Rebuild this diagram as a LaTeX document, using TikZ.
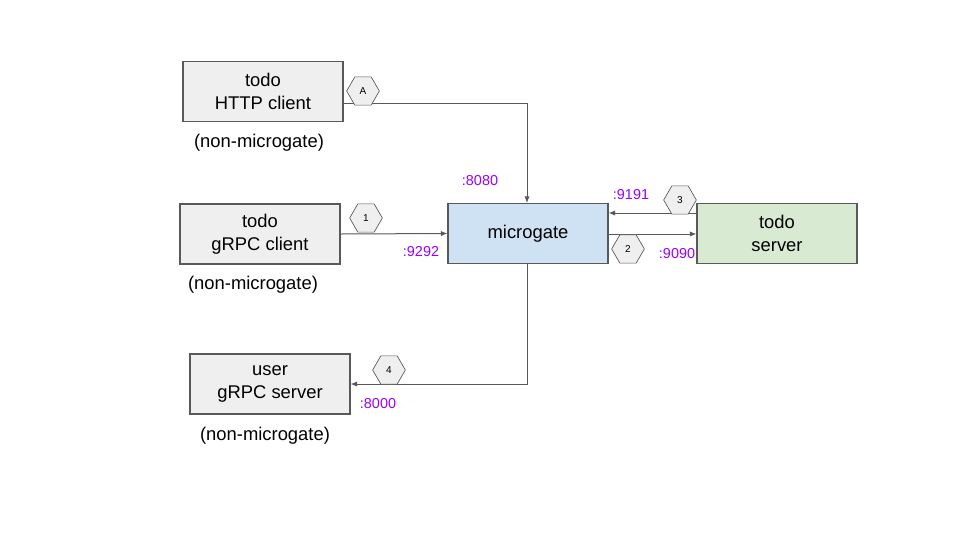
\documentclass[tikz,border=0pt]{standalone}
\usepackage{fontspec}
\setmainfont{Liberation Sans}
\usetikzlibrary{arrows.meta,shapes.geometric}
\definecolor{boxgray}{HTML}{EFEFEF}
\definecolor{linegray}{HTML}{595959}
\definecolor{mgblue}{HTML}{CFE2F3}
\definecolor{srvgreen}{HTML}{D9EAD3}
\definecolor{portpurple}{HTML}{9900FF}
\tikzset{
  box/.style={draw=linegray, line width=0.8pt, fill=boxgray, minimum width=120pt, minimum height=45pt, inner sep=0pt, align=center, font=\fontsize{13.8}{17}\selectfont},
  note/.style={font=\fontsize{13.8}{16}\selectfont, inner sep=0pt},
  port/.style={text=portpurple, font=\fontsize{10.8}{12}\selectfont, inner sep=0pt},
  hexa/.style={regular polygon, regular polygon sides=6, draw=linegray, line width=0.5pt, fill=boxgray, minimum size=24.5pt, inner sep=0pt, font=\fontsize{7.5}{8}\selectfont},
  conn/.style={draw=linegray, line width=0.75pt, -{Latex[length=5pt,width=4pt]}}
}
\begin{document}
\begin{tikzpicture}[x=0.75pt,y=-0.75pt]
\useasboundingbox[fill=white] (0,0) rectangle (960,540);
% boxes
\node[box] (http) at (263,91.5) {todo\\HTTP client};
\node[box] (grpcc) at (260,234) {todo\\gRPC client};
\node[box, fill=mgblue] (mg) at (528,233.5) {microgate};
\node[box, fill=srvgreen] (srv) at (777,233.5) {todo\\server};
\node[box] (user) at (270,384) {user\\gRPC server};
% notes
\node[note] (n1) at (259,143) {(non-microgate)};
\node[note] (n2) at (253,285) {(non-microgate)};
\node[note] (n3) at (265,436) {(non-microgate)};
% corner coordinates
\coordinate (cA) at (527,103);
\coordinate (c4) at (527,384);
% connectors
\draw[conn] (http.east |- 0,103) -- (cA) -- (mg.north -| cA);
\draw[conn] (grpcc.east) -- (mg.west);
\draw[conn] (srv.west |- 0,213) -- (mg.east |- 0,213);
\draw[conn] (mg.east |- 0,234) -- (srv.west |- 0,234);
\draw[conn] (mg.south -| c4) -- (c4) -- (user.east);
% hexagon tags
\node[hexa] (hA) at (363,91) {A};
\node[hexa] (h1) at (366,218) {1};
\node[hexa] (h3) at (680,200) {3};
\node[hexa] (h2) at (628,249) {2};
\node[hexa] (h4) at (389,370) {4};
% ports
\node[port] (p8080) at (480,181) {:8080};
\node[port] (p9292) at (421,252) {:9292};
\node[port] (p9191) at (631,195) {:9191};
\node[port] (p9090) at (677,254) {:9090};
\node[port] (p8000) at (378,404) {:8000};
\end{tikzpicture}
\end{document}
